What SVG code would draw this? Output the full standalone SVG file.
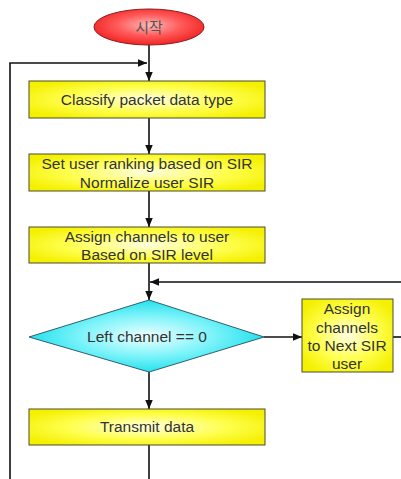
<svg xmlns="http://www.w3.org/2000/svg" width="401" height="479" viewBox="0 0 401 479">
  <defs>
    <radialGradient id="gYellow" cx="50%" cy="50%" r="60%">
      <stop offset="0" stop-color="#ffffe0"/>
      <stop offset="0.55" stop-color="#ffff50"/>
      <stop offset="1" stop-color="#f4f000"/>
    </radialGradient>
    <radialGradient id="gCyan" cx="50%" cy="50%" r="55%">
      <stop offset="0" stop-color="#eeffff"/>
      <stop offset="0.5" stop-color="#80f4fa"/>
      <stop offset="1" stop-color="#10dcea"/>
    </radialGradient>
    <radialGradient id="gRed" cx="50%" cy="45%" r="60%">
      <stop offset="0" stop-color="#ffb8b8"/>
      <stop offset="0.5" stop-color="#ff5858"/>
      <stop offset="1" stop-color="#ee1a1a"/>
    </radialGradient>
    <marker id="arrow" viewBox="0 0 12 10" refX="12" refY="5" markerWidth="9" markerHeight="8" markerUnits="userSpaceOnUse" orient="auto">
      <path d="M0,0 L12,5 L0,10 Z" fill="#111"/>
    </marker>
  </defs>
  <style>
    .box { fill: url(#gYellow); stroke: #4a4a30; stroke-width: 1; }
    .lbl { font-family: "Liberation Sans", Arial, sans-serif; font-size: 15.5px; fill: #333; text-anchor: middle; dominant-baseline: central; }
    .wire { fill: none; stroke: #111; stroke-width: 1.6; }
  </style>
  <rect width="401" height="479" fill="#fff"/>

  <!-- connectors -->
  <g id="connectors">
    <line class="wire" x1="149" y1="45" x2="149" y2="81" marker-end="url(#arrow)"/>
    <polyline class="wire" points="10,479 10,63 147,63" marker-end="url(#arrow)"/>
    <line class="wire" x1="149" y1="118" x2="149" y2="154" marker-end="url(#arrow)"/>
    <line class="wire" x1="149" y1="191" x2="149" y2="227" marker-end="url(#arrow)"/>
    <line class="wire" x1="149" y1="263" x2="149" y2="300" marker-end="url(#arrow)"/>
    <line class="wire" x1="401" y1="282" x2="150" y2="282" marker-end="url(#arrow)" stroke="#333"/>
    <line class="wire" x1="264" y1="337" x2="302" y2="337" marker-end="url(#arrow)"/>
    <line class="wire" x1="393" y1="337" x2="401" y2="337"/>
    <line class="wire" x1="149" y1="372" x2="149" y2="409" marker-end="url(#arrow)"/>
    <line class="wire" x1="149" y1="445" x2="149" y2="479"/>
  </g>

  <g id="start">
    <ellipse cx="149" cy="27" rx="55" ry="18" fill="url(#gRed)" stroke="#8a2020" stroke-width="1"/>
    <text class="lbl" x="149" y="26" style="font-family: 'Noto Sans CJK KR', sans-serif; font-size: 15px; fill: #555;">시작</text>
  </g>

  <g id="classify">
    <rect class="box" x="29" y="81" width="236" height="37"/>
    <text class="lbl" x="147" y="99">Classify packet data type</text>
  </g>

  <g id="ranking">
    <rect class="box" x="29" y="154" width="236" height="37"/>
    <text class="lbl" x="147" y="163">Set user ranking based on SIR</text>
    <text class="lbl" x="147" y="182">Normalize user SIR</text>
  </g>

  <g id="assign">
    <rect class="box" x="29" y="227" width="236" height="36"/>
    <text class="lbl" x="147" y="236">Assign channels to user</text>
    <text class="lbl" x="147" y="254">Based on SIR level</text>
  </g>

  <g id="decision">
    <polygon points="149,300 264,337 149,372 29,337" fill="url(#gCyan)" stroke="#2f6070" stroke-width="1"/>
    <text class="lbl" x="147" y="336">Left channel == 0</text>
  </g>

  <g id="assign-next">
    <rect class="box" x="302" y="299" width="91" height="73"/>
    <text class="lbl" x="347" y="308">Assign</text>
    <text class="lbl" x="347" y="327">channels</text>
    <text class="lbl" x="347" y="345">to Next SIR</text>
    <text class="lbl" x="347" y="363">user</text>
  </g>

  <g id="transmit">
    <rect class="box" x="29" y="409" width="236" height="36"/>
    <text class="lbl" x="147" y="426">Transmit data</text>
  </g>
</svg>
